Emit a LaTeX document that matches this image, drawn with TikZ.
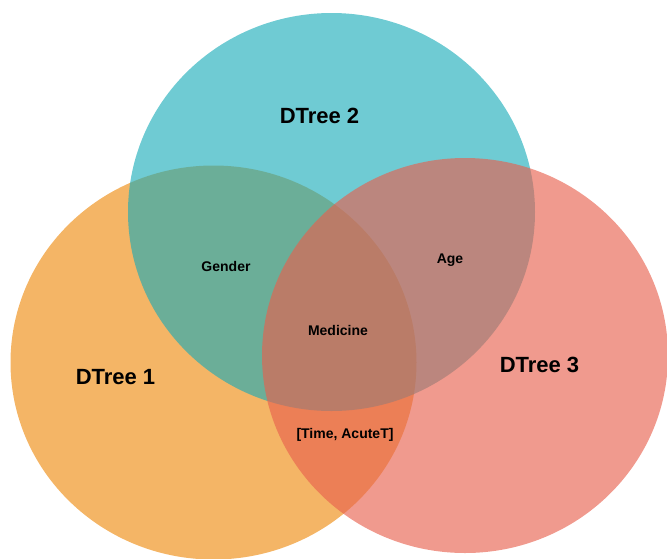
\documentclass[tikz,border=0pt]{standalone}
\usepackage{fontspec}
\setmainfont{Liberation Sans}
\begin{document}
\begin{tikzpicture}[x=1pt,y=-1pt,
  setA/.style={fill={rgb,255:red,244;green,181;blue,102}},
  setB/.style={fill={rgb,255:red,23;green,171;blue,184},fill opacity=0.62},
  setC/.style={fill={rgb,255:red,232;green,96;blue,77},fill opacity=0.635},
  title/.style={font=\bfseries\fontsize{22}{26}\selectfont,anchor=base,inner sep=0pt},
  item/.style={font=\bfseries\fontsize{14}{17}\selectfont,anchor=base,inner sep=0pt}]
  \useasboundingbox (0,0) rectangle (667,558);
  \clip (0,0) rectangle (667,558);
  % the three sets
  \coordinate (c1) at (213.5,362.5);
  \coordinate (c2) at (331.5,212);
  \coordinate (c3) at (465,355.5);
  \fill[setA] (c1) ellipse [x radius=203, y radius=197];
  \fill[setB] (c2) ellipse [x radius=203.5, y radius=199];
  \fill[setC] (c3) ellipse [x radius=203, y radius=197.5];
  % set names
  \node[title] (t1) at (115.5,384) {DTree 1};
  \node[title] (t2) at (319.5,123) {DTree 2};
  \node[title] (t3) at (539.5,372) {DTree 3};
  % shared attributes
  \node[item] (gender) at (226,271) {Gender};
  \node[item] (age) at (450,263) {Age};
  \node[item] (medicine) at (338,335) {Medicine};
  \node[item] (timeacute) at (345,438) {[Time, AcuteT]};
\end{tikzpicture}
\end{document}
